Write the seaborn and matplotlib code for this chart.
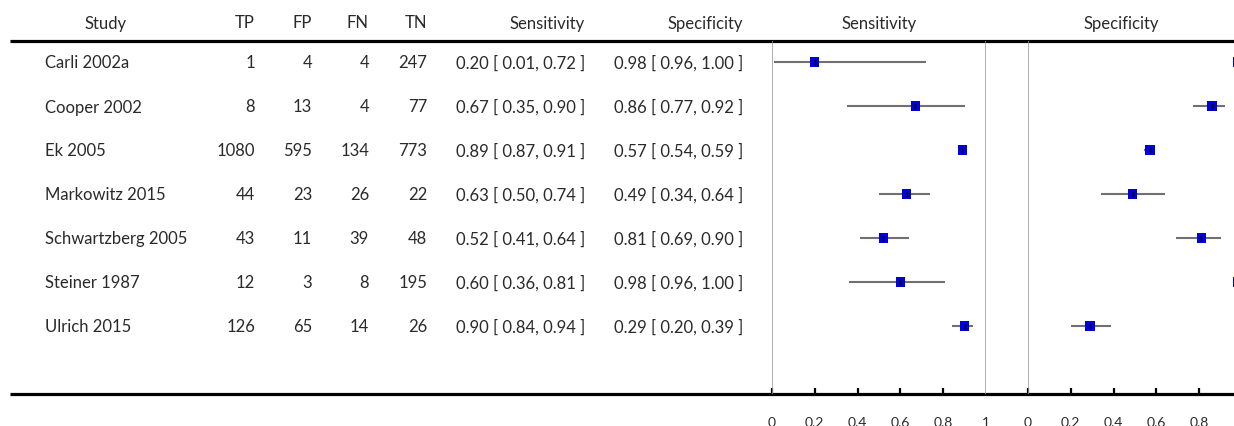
import matplotlib
matplotlib.use("Agg")
import matplotlib.pyplot as plt
import pandas as pd
import seaborn as sns

# ---- data -------------------------------------------------------------
studies = ["Carli 2002a", "Cooper 2002", "Ek 2005", "Markowitz 2015",
           "Schwartzberg 2005", "Steiner 1987", "Ulrich 2015"]
tp = [1, 8, 1080, 44, 43, 12, 126]
fp = [4, 13, 595, 23, 11, 3, 65]
fn = [4, 4, 134, 26, 39, 8, 14]
tn = [247, 77, 773, 22, 48, 195, 26]
sens = [0.20, 0.67, 0.89, 0.63, 0.52, 0.60, 0.90]
sens_lo = [0.01, 0.35, 0.87, 0.50, 0.41, 0.36, 0.84]
sens_hi = [0.72, 0.90, 0.91, 0.74, 0.64, 0.81, 0.94]
spec = [0.98, 0.86, 0.57, 0.49, 0.81, 0.98, 0.29]
spec_lo = [0.96, 0.77, 0.54, 0.34, 0.69, 0.96, 0.20]
spec_hi = [1.00, 0.92, 0.59, 0.64, 0.90, 1.00, 0.39]
tick_vals = [0, 0.2, 0.4, 0.6, 0.8, 1]
tick_labels = ["0", "0.2", "0.4", "0.6", "0.8", "1"]

df = pd.DataFrame({
    "study": studies, "row": range(len(studies)),
    "tp": tp, "fp": fp, "fn": fn, "tn": tn,
    "sens": sens, "sens_lo": sens_lo, "sens_hi": sens_hi,
    "spec": spec, "spec_lo": spec_lo, "spec_hi": spec_hi,
})

sns.set_theme(style="white")
plt.rcParams["font.family"] = ["Lato", "DejaVu Sans"]

W, H, DPI = 1234, 427, 100
fig = plt.figure(figsize=(W / DPI, H / DPI), dpi=DPI)

# layout (pixels)
top_rule, bottom_rule = 42, 395
row0, row_step = 63, 44
header_y = 23
base_off = 5.5          # baseline sits this far below a row's centre
txt_color = "#2a2a2a"
fs = 12
txt_kw = dict(va="baseline", fontsize=fs, color=txt_color)

# full-figure overlay for the table text and rules
ov = fig.add_axes([0, 0, 1, 1], zorder=0)
ov.set_xlim(0, W)
ov.set_ylim(H, 0)
ov.axis("off")
ov.plot([10, W], [top_rule, top_rule], color="black", lw=2.3, solid_capstyle="butt")
ov.plot([10, W], [bottom_rule, bottom_rule], color="black", lw=2.3, solid_capstyle="butt")

headers = [("Study", 106, "center"), ("TP", 255, "right"), ("FP", 312, "right"),
           ("FN", 369, "right"), ("TN", 427, "right"),
           ("Sensitivity", 585, "right"), ("Specificity", 743, "right"),
           ("Sensitivity", 879, "center"), ("Specificity", 1121, "center")]
for label, x, ha in headers:
    ov.text(x, header_y + base_off, label, ha=ha, **txt_kw)

for _, r in df.iterrows():
    y = row0 + row_step * r["row"] + base_off
    ov.text(45, y, r["study"], ha="left", **txt_kw)
    for col, x in (("tp", 255), ("fp", 312), ("fn", 369), ("tn", 427)):
        ov.text(x, y, f"{r[col]}", ha="right", **txt_kw)
    ov.text(585, y, f"{r['sens']:.2f} [ {r['sens_lo']:.2f}, {r['sens_hi']:.2f} ]",
            ha="right", **txt_kw)
    ov.text(743, y, f"{r['spec']:.2f} [ {r['spec_lo']:.2f}, {r['spec_hi']:.2f} ]",
            ha="right", **txt_kw)

# forest panels
panel_w = 214
ylim = ((bottom_rule - row0) / row_step, (top_rule - row0) / row_step)


def forest(left_px, est, lo, hi, show_last_label=True):
    ax = fig.add_axes([left_px / W, (H - bottom_rule) / H, panel_w / W,
                       (bottom_rule - top_rule) / H], zorder=2)
    ax.set_facecolor("none")
    ax.set_xlim(0, 1)
    ax.set_ylim(*ylim)
    for v in (0, 1):
        ax.axvline(v, color="#9a9a9a", lw=1.1, zorder=1)
    ax.hlines(df["row"], df[lo], df[hi], color="#707070", lw=1.5, zorder=2)
    sns.scatterplot(data=df, x=est, y="row", marker="s", s=44, color="#0000dd",
                    edgecolor="none", ax=ax, zorder=3, legend=False, clip_on=False)
    ax.plot(df[est], df["row"], ls="none", marker="|", ms=4, mew=1,
            color="black", zorder=4)
    for s in ax.spines.values():
        s.set_visible(False)
    ax.set_xticks(tick_vals)
    ax.set_xticklabels(tick_labels)
    ax.set_yticks([])
    ax.set_xlabel("")
    ax.set_ylabel("")
    ax.tick_params(axis="x", direction="in", length=4, width=1.6, color="black",
                   pad=16, labelsize=10, labelcolor=txt_color, bottom=True)
    last = ax.xaxis.get_major_ticks()[-1]
    last.tick1line.set_visible(False)
    if not show_last_label:
        last.label1.set_visible(False)
    return ax


forest(772, "sens", "sens_lo", "sens_hi")
forest(1028, "spec", "spec_lo", "spec_hi", show_last_label=False)

fig.savefig("out.png", dpi=DPI)
